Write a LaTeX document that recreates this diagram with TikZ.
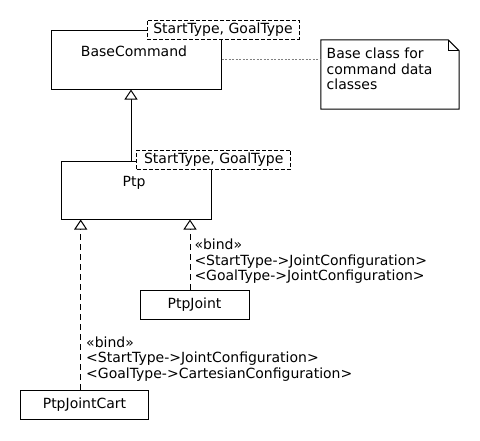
\documentclass[tikz,border=0pt]{standalone}
\usepackage{fontspec}
\setmainfont{DejaVu Sans}
\usetikzlibrary{arrows.meta}

\tikzset{
  classbox/.style={draw, line width=1pt, fill=white, inner sep=0pt},
  tplbox/.style={draw, line width=1pt, dash pattern=on 4pt off 2pt, fill=white,
    inner sep=0pt, minimum height=19pt},
  inherit/.style={line width=1pt, -{Triangle[open, length=10pt, width=13pt, fill=white]}},
  realize/.style={inherit, dash pattern=on 6pt off 4pt},
  notelink/.style={gray, line width=1pt, dash pattern=on 2pt off 1.5pt},
  bindtext/.style={align=left, anchor=north west, inner sep=0pt},
}

\begin{document}
\begin{tikzpicture}[x=1pt, y=-1pt, font=\fontsize{14}{15.5}\selectfont]
  \useasboundingbox (0,0) rectangle (480,440);

  % class boxes
  \node[classbox, minimum width=170, minimum height=59] (base) at (136,59.5) {};
  \node[anchor=base] (basename) at (134,56.5) {BaseCommand};
  \node[tplbox, minimum width=152] (basetpl) at (223,29.5) {StartType, GoalType};

  \node[classbox, minimum width=150, minimum height=58] (ptp) at (136,190) {};
  \node[anchor=base] (ptpname) at (134,186.5) {Ptp};
  \node[tplbox, minimum width=154] (ptptpl) at (213.7,159.7) {StartType, GoalType};

  \node[classbox, minimum width=109, minimum height=29] (joint) at (194.5,304.5) {PtpJoint};
  \node[classbox, minimum width=128, minimum height=29] (cart) at (84.5,404.7) {PtpJointCart};

  % note with folded corner
  \node[inner sep=0pt, minimum width=138, minimum height=69] (note) at (390,74.5) {};
  \draw[line width=1pt, fill=white] (note.north west) -- ([xshift=-11pt]note.north east)
    -- ([yshift=-11pt]note.north east) -- (note.south east) -- (note.south west) -- cycle;
  \draw[line width=1pt] ([xshift=-11pt]note.north east) -- ([xshift=-11pt,yshift=-11pt]note.north east)
    -- ([yshift=-11pt]note.north east);
  \node[bindtext] (notetext) at (326.5,48) {Base class for\\command data\\classes};
  \draw[notelink] (base.east) -- (base.east -| note.west);

  % generalization and bindings
  \draw[inherit] ([xshift=-5pt]ptp.north) -- ([xshift=-5pt]base.south);
  \draw[realize] ([xshift=-4.5pt]joint.north) -- ([xshift=-4.5pt]joint.north |- ptp.south);
  \draw[realize] ([xshift=-3.8pt]cart.north) -- ([xshift=-3.8pt]cart.north |- ptp.south);

  \node[bindtext] (jointbind) at (194.3,239) {«bind»\\<StartType->JointConfiguration>\\<GoalType->JointConfiguration>};
  \node[bindtext] (cartbind) at (86,336.5) {«bind»\\<StartType->JointConfiguration>\\<GoalType->CartesianConfiguration>};
\end{tikzpicture}
\end{document}
